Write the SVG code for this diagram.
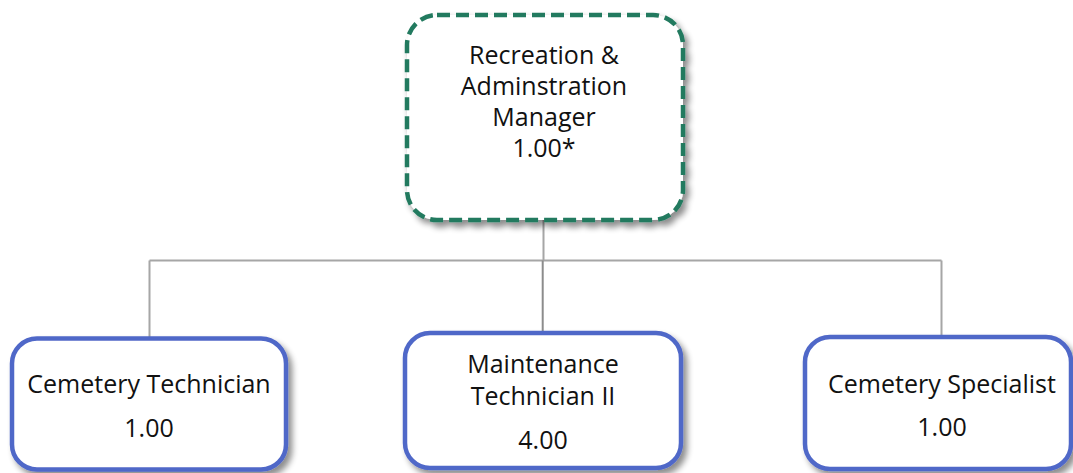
<svg xmlns="http://www.w3.org/2000/svg" width="1073" height="473" viewBox="0 0 1073 473">
<defs>
<filter id="sh" x="-10%" y="-10%" width="125%" height="125%">
<feGaussianBlur in="SourceAlpha" stdDeviation="3"/>
<feOffset dx="4" dy="5" result="b"/>
<feComponentTransfer><feFuncA type="linear" slope="0.45"/></feComponentTransfer>
<feMerge><feMergeNode/><feMergeNode in="SourceGraphic"/></feMerge>
</filter>
<style>
.t{font-family:"Open Sans","Noto Sans",sans-serif;font-size:25px;fill:#111;text-anchor:middle}
.box{fill:#fff;stroke:#5067C8;stroke-width:4.5}
.mgr{fill:#fff;stroke:#237A5F;stroke-width:4.5;stroke-dasharray:13 6}
.c{fill:none;stroke:#A6A6A6;stroke-width:2}
</style>
</defs>
<rect width="1073" height="473" fill="#fff"/>
<g id="connectors">
<path class="c" d="M543.5 220 V260.5 M149.5 260.5 H941.5 M149.5 260.5 V337 M941.5 260.5 V336"/>
<path class="c" style="stroke:#8C8C8C" d="M542.7 260.5 V332"/>
</g>
<g id="manager">
<rect class="mgr" x="407" y="15" width="276" height="205" rx="30" filter="url(#sh)"/>
<text class="t" x="544" y="64">Recreation &amp;</text>
<text class="t" x="544" y="95">Adminstration</text>
<text class="t" x="544" y="126">Manager</text>
<text class="t" x="544" y="157">1.00*</text>
</g>
<g id="cemetery-technician">
<rect class="box" x="12" y="338.5" width="274" height="131" rx="25" filter="url(#sh)"/>
<text class="t" x="149" y="393">Cemetery Technician</text>
<text class="t" x="149" y="437">1.00</text>
</g>
<g id="maintenance-technician">
<rect class="box" x="405" y="333" width="276" height="135" rx="25" filter="url(#sh)"/>
<text class="t" x="543" y="373">Maintenance</text>
<text class="t" x="543" y="405">Technician II</text>
<text class="t" x="543" y="449">4.00</text>
</g>
<g id="cemetery-specialist">
<rect class="box" x="805" y="337" width="266" height="132" rx="25" filter="url(#sh)"/>
<text class="t" x="942" y="393">Cemetery Specialist</text>
<text class="t" x="942" y="436">1.00</text>
</g>
</svg>
